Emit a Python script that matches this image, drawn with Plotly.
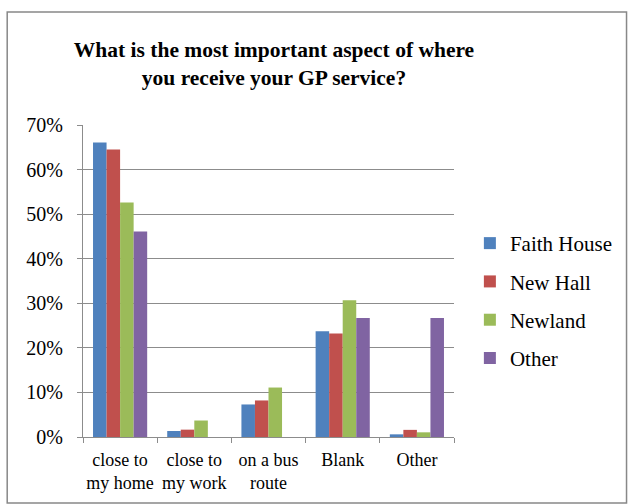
import plotly.graph_objects as go

categories = ["close to<br>my home", "close to<br>my work", "on a bus<br>route", "Blank", "Other"]
series_names = ["Faith House", "New Hall", "Newland", "Other"]
faith_house = [0.661, 0.0135, 0.073, 0.237, 0.006]
new_hall = [0.645, 0.0165, 0.082, 0.232, 0.016]
newland = [0.526, 0.037, 0.111, 0.307, 0.0105]
other = [0.461, 0.0, 0.0, 0.267, 0.267]
colors = ["#4F81BD", "#C0504D", "#9BBB59", "#8064A2"]
y_ticks = [0, 0.1, 0.2, 0.3, 0.4, 0.5, 0.6, 0.7]
y_tick_labels = ["0%", "10%", "20%", "30%", "40%", "50%", "60%", "70%"]

values = [faith_house, new_hall, newland, other]
font_family = "Liberation Serif"

fig = go.Figure()
for name, vals, c in zip(series_names, values, colors):
    fig.add_trace(go.Bar(
        x=categories, y=vals, name=name, legendgroup=name,
        marker=dict(color=c, line=dict(width=0)),
    ))

fig.update_layout(
    width=629, height=504,
    margin=dict(l=83, r=174, t=125, b=67),
    paper_bgcolor="white", plot_bgcolor="white",
    barmode="group", bargap=0.27, bargroupgap=0,
    font=dict(family=font_family, color="black", size=16),
    title=dict(
        text="<b>What is the most important aspect of where<br>you receive your GP service?</b>",
        x=274 / 629, xanchor="center", y=1 - 57 / 504, yanchor="middle",
        font=dict(family=font_family, size=21.5, color="black"),
    ),
    legend=dict(
        x=1.040, xanchor="left", y=0.436, yanchor="middle",
        font=dict(family=font_family, size=21, color="black"),
        tracegroupgap=8, bgcolor="rgba(0,0,0,0)",
    ),
    showlegend=True,
)

fig.update_yaxes(
    range=[0, 0.7], tickvals=y_ticks, ticktext=y_tick_labels,
    showgrid=True, gridcolor="#8C8C8C", gridwidth=1,
    showline=True, linecolor="#8C8C8C", linewidth=1,
    ticks="outside", ticklen=5, tickcolor="#8C8C8C",
    ticklabelstandoff=10, automargin=False,
    tickfont=dict(family=font_family, size=20, color="black"),
    zeroline=False,
)
fig.update_xaxes(
    showline=True, linecolor="#8C8C8C", linewidth=1,
    ticks="outside", ticklen=5, tickcolor="#8C8C8C", tickson="boundaries",
    tickangle=0, automargin=False, ticklabelstandoff=6,
    tickfont=dict(family=font_family, size=18, color="black"),
    showgrid=False,
)

# outer chart border
fig.add_shape(
    type="rect", xref="paper", yref="paper",
    x0=(7 - 83) / 372, x1=(628 - 83) / 372,
    y0=(437 - 503) / 312, y1=(437 - 12) / 312,
    line=dict(color="#888888", width=1.5), fillcolor="rgba(0,0,0,0)", layer="below",
)

fig.write_html("out.html")
